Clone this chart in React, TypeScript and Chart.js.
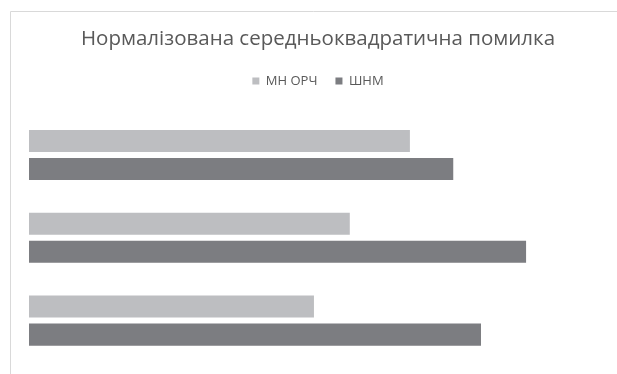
import React, { useEffect, useRef } from "react";
import { Chart, registerables } from "chart.js";

Chart.register(...registerables);

// Categories, listed from top to bottom
const categories = ["Набір 1", "Набір 2", "Набір 3"];
// Series values (normalized RMSE)
const seriesLabels = ["МН ОРЧ", "ШНМ"];
const mnOrchValues = [0.659, 0.555, 0.493];
const shnmValues = [0.734, 0.86, 0.782];
const axisMin = 0;
const axisMax = 1;

const titleText = "Нормалізована середньоквадратична помилка";

// Thin frame around the chart, like an office chart container
const framePlugin = {
  id: "frame",
  beforeDraw(chart: any) {
    const ctx = chart.ctx;
    ctx.save();
    ctx.strokeStyle = "#d9d9d9";
    ctx.lineWidth = 1;
    ctx.beginPath();
    ctx.moveTo(10.5, chart.height);
    ctx.lineTo(10.5, 11.5);
    ctx.lineTo(chart.width, 11.5);
    ctx.stroke();
    ctx.restore();
  },
};

export default function App() {
  const canvasRef = useRef<HTMLCanvasElement | null>(null);

  useEffect(() => {
    const canvas = canvasRef.current;
    if (!canvas) return;
    const chart = new Chart(canvas, {
      type: "bar",
      data: {
        labels: categories,
        datasets: [
          {
            label: seriesLabels[0],
            data: mnOrchValues,
            backgroundColor: "#bdbec1",
            borderWidth: 0,
          },
          {
            label: seriesLabels[1],
            data: shnmValues,
            backgroundColor: "#7c7d81",
            borderWidth: 0,
          },
        ],
      },
      options: {
        indexAxis: "y",
        responsive: false,
        animation: false,
        devicePixelRatio: 1,
        categoryPercentage: 0.677,
        barPercentage: 0.786,
        layout: { padding: { top: 27, left: 29, right: 10, bottom: 12 } },
        plugins: {
          title: {
            display: true,
            text: titleText,
            color: "#595959",
            font: { family: "'Open Sans', sans-serif", size: 20.5, weight: "normal", lineHeight: 1.2 },
            padding: { top: 0, bottom: 5 },
          },
          legend: {
            display: true,
            position: "top",
            labels: {
              color: "#595959",
              font: { family: "'Open Sans', sans-serif", size: 13 },
              boxWidth: 7,
              boxHeight: 7,
              padding: 18,
            },
          },
          tooltip: { enabled: false },
        },
        scales: {
          x: {
            position: "top",
            display: true,
            min: axisMin,
            max: axisMax,
            grid: { display: false },
            border: { display: false },
            ticks: { display: false },
            afterFit(scale: any) {
              scale.height = 16;
            },
          },
          y: {
            display: false,
            grid: { display: false },
          },
        },
      },
      plugins: [framePlugin],
    });
    return () => chart.destroy();
  }, []);

  return (
    <canvas
      ref={canvasRef}
      width={617}
      height={374}
      style={{ position: "fixed", left: 0, top: 0, width: 617, height: 374 }}
    />
  );
}
